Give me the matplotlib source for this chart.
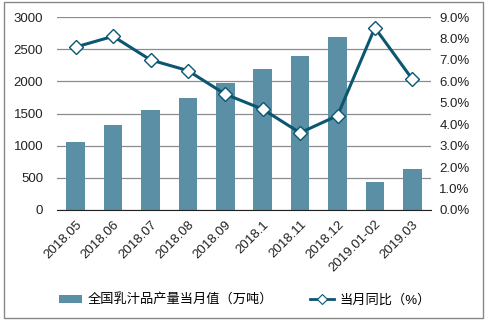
import numpy as np
import matplotlib.pyplot as plt
from matplotlib.patches import Rectangle
from matplotlib.lines import Line2D
from matplotlib.ticker import FuncFormatter

plt.rcParams['font.family'] = ['Liberation Sans', 'Noto Sans CJK SC', 'DejaVu Sans']

months = ['2018.05', '2018.06', '2018.07', '2018.08', '2018.09', '2018.1',
          '2018.11', '2018.12', '2019.01-02', '2019.03']
output = [1057, 1321, 1554, 1741, 1974, 2192, 2394, 2689, 435, 637]
yoy = [7.6, 8.1, 7.0, 6.5, 5.4, 4.7, 3.6, 4.4, 8.5, 6.1]

fig = plt.figure(figsize=(4.89, 3.24), dpi=100)
ax = fig.add_axes([57/489, 1 - 210/324, (431 - 57)/489, (210 - 17)/324])
ax2 = ax.twinx()

x = np.arange(len(months))
b = ax.bar(x, output, width=0.5, color='#5B8FA6', zorder=2)
ax2.plot(x, yoy, color='#0B5670', lw=2.2, marker='D', ms=7, mfc='white',
         mec='#0B5670', mew=1, zorder=3)

ax.set_xlim(-0.5, len(months) - 0.5)
ax.set_ylim(0, 3000)
ax.set_yticks(range(0, 3001, 500))
ax2.set_ylim(0, 9)
ax2.set_yticks(np.arange(0, 9.1, 1))
ax2.yaxis.set_major_formatter(FuncFormatter(lambda v, p: f'{v:.1f}%'))
ax.grid(axis='y', color='#8c8c8c', lw=0.9, zorder=0)
ax.set_xticks(x)
ax.set_xticklabels(months, rotation=45, ha='right', rotation_mode='anchor')

for a in (ax, ax2):
    for s in ['top', 'left', 'right']:
        a.spines[s].set_visible(False)
    a.tick_params(length=0, labelsize=9.5, colors='#222222')
ax.spines['bottom'].set_visible(False)
ax2.spines['bottom'].set_color('#222222')
ax.tick_params(axis='y', pad=10)
ax.tick_params(axis='x', pad=6)
ax2.tick_params(axis='y', pad=6)

line_handle = Line2D([], [], color='#0B5670', lw=2, marker='D', ms=5, mfc='white',
                     mec='#0B5670', mew=0.8)
fig.legend([b, line_handle], ['全国乳汁品产量当月值（万吨）', '当月同比（%）'], loc='center',
           bbox_to_anchor=(0.5, 1 - 300/324), ncol=2, frameon=False, fontsize=9.5,
           handlelength=1.8, handleheight=0.5, columnspacing=2.8, handletextpad=0.4)

fig.patches.append(Rectangle((4/489, 1 - 318/324), 479/489, 316/324, transform=fig.transFigure,
                             fill=False, ec='#888888', lw=1))

fig.savefig('out.png', dpi=100)
